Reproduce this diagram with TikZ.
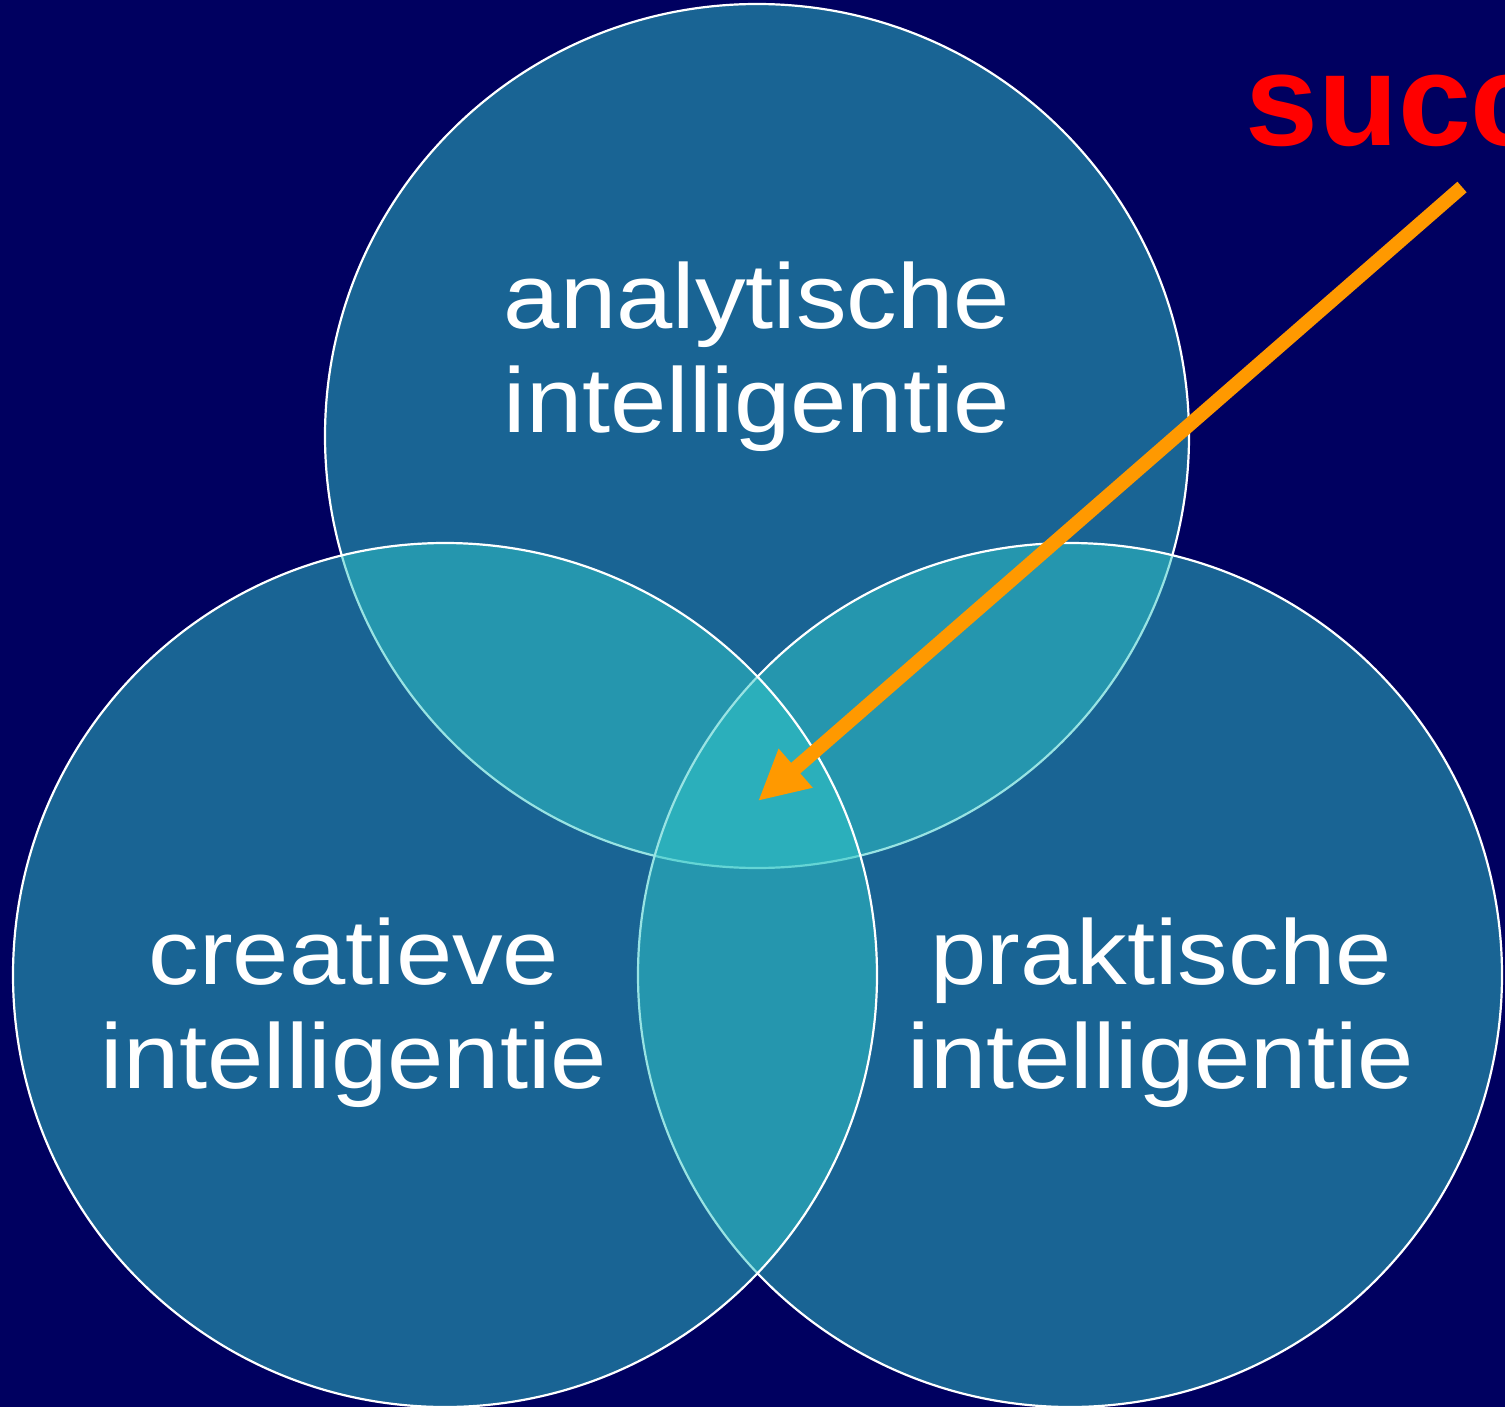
\documentclass[tikz,border=0pt]{standalone}
\usepackage{fontspec}
\setmainfont{Liberation Sans}
\newfontfamily\widesans[FakeStretch=1.1]{Liberation Sans}
\usetikzlibrary{arrows.meta}
\definecolor{bgnavy}{RGB}{0,0,96}
\definecolor{circfill}{RGB}{50,200,200}
\definecolor{arroworange}{RGB}{255,153,0}
\tikzset{
  venn/.style={fill=circfill, fill opacity=0.5, draw=white, draw opacity=1, line width=2.2pt},
  vlabel/.style={text=white, align=center, inner sep=0pt, font=\widesans\fontsize{92}{104}\selectfont},
  succlabel/.style={text=red, anchor=base west, inner sep=0pt, font=\fontsize{131}{150}\selectfont\bfseries},
  pointer/.style={draw=arroworange, line width=14pt, -{Triangle[length=50pt,width=48pt]}}
}
\begin{document}
\begin{tikzpicture}[x=1pt,y=-1pt]
\useasboundingbox (0,0) rectangle (1505,1407);
\clip (0,0) rectangle (1505,1407);
\fill[bgnavy] (0,0) rectangle (1505,1407);
\node[venn, circle, minimum size=864pt, inner sep=0pt] (top) at (757,436) {};
\node[venn, circle, minimum size=864pt, inner sep=0pt] (right) at (1070,975) {};
\node[venn, circle, minimum size=864pt, inner sep=0pt] (left) at (445,975) {};
\node[vlabel] (tlab) at (757,357) {analytische\\intelligentie};
\node[vlabel] (llab) at (354,1013) {creatieve\\intelligentie};
\node[vlabel] (rlab) at (1161,1013) {praktische\\intelligentie};
\node[succlabel] (succ) at (1245,146) {succes};
\coordinate (astart) at (1462,187);
\coordinate (aend) at (758,801);
\draw[pointer] (astart) -- (aend);
\end{tikzpicture}
\end{document}
